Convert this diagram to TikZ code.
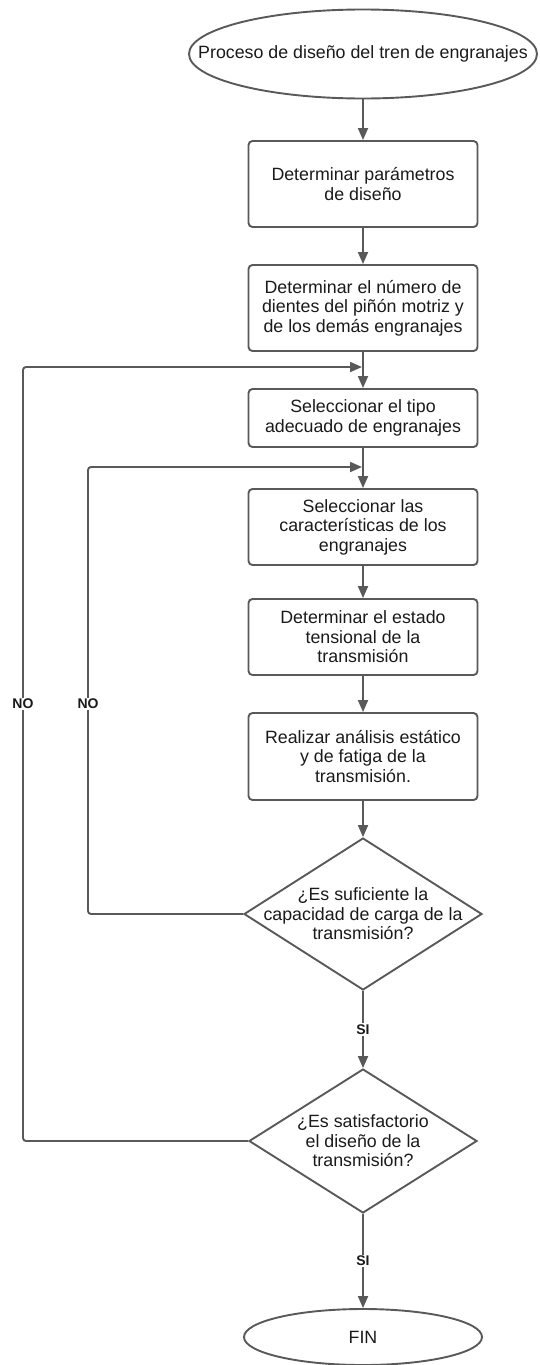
\documentclass[tikz,border=0pt]{standalone}
\usepackage{fontspec}
\setmainfont{Liberation Sans}
\usetikzlibrary{shapes.geometric,arrows.meta}
\definecolor{linec}{HTML}{595959}
\definecolor{txtc}{HTML}{1A1A1A}
\begin{document}
\begin{tikzpicture}[x=1pt,y=-1pt,
  every node/.style={text=txtc, font=\fontsize{17.8}{19.5}\selectfont},
  ln/.style={draw=linec, line width=1.9pt},
  arr/.style={ln, -{Triangle[width=10pt,length=12pt]}},
  box/.style={ln, rectangle, rounded corners=4pt, minimum width=229pt, align=center, inner sep=0pt},
  dia/.style={ln, diamond, inner sep=0pt},
  term/.style={ln, ellipse, inner sep=0pt},
  lbl/.style={font=\bfseries\fontsize{14}{15}\selectfont, fill=white, inner sep=1.5pt, text=txtc},
  txt/.style={align=center, inner sep=0pt}
]
\useasboundingbox (0,0) rectangle (540,1365);

% terminals
\node[term, minimum width=348pt, minimum height=89pt] (s) at (363,54) {};
\node[txt] (st) at (s) {Proceso de diseño del tren de engranajes};

% process boxes
\node[box, minimum height=86pt] (b1) at (363,184) {Determinar parámetros\\de diseño};
\node[box, minimum height=86pt] (b2) at (363,308) {Determinar el número de\\dientes del piñón motriz y\\de los demás engranajes};
\node[box, minimum height=58pt] (b3) at (363,418) {Seleccionar el tipo\\adecuado de engranajes};
\node[box, minimum height=76pt] (b4) at (363,527) {Seleccionar las\\características de los\\engranajes};
\node[box, minimum height=76pt] (b5) at (363,637) {Determinar el estado\\tensional de la\\transmisión};
\node[box, minimum height=87pt] (b6) at (363,756.5) {Realizar análisis estático\\y de fatiga de la\\transmisión.};

% decisions
\node[dia, minimum width=238pt, minimum height=152pt] (d1) at (363,914) {};
\node[txt] (d1t) at (d1) {¿Es suficiente la\\capacidad de carga de la\\transmisión?};
\node[dia, minimum width=228pt, minimum height=144pt] (d2) at (363,1141) {};
\node[txt] (d2t) at (d2) {¿Es satisfactorio\\el diseño de la\\transmisión?};

% end
\node[term, minimum width=238pt, minimum height=56pt] (f) at (363,1337) {};
\node[txt] (ft) at (f) {FIN};

% main flow
\draw[arr] (s.south) -- (b1.north);
\draw[arr] (b1.south) -- (b2.north);
\draw[arr] (b2.south) -- (b3.north);
\draw[arr] (b3.south) -- (b4.north);
\draw[arr] (b4.south) -- (b5.north);
\draw[arr] (b5.south) -- (b6.north);
\draw[arr] (b6.south) -- (d1.north);
\draw[arr] (d1.south) -- node[lbl] (si1) {SI} (d2.north);
\draw[arr] (d2.south) -- node[lbl] (si2) {SI} (f.north);

% loops
\coordinate (o1) at (23,1141);
\coordinate (o2) at (23,367);
\coordinate (j1) at (363,367);
\coordinate (i1) at (88,914);
\coordinate (i2) at (88,467);
\coordinate (j2) at (363,467);
\draw[arr, rounded corners=3pt, shorten >=1pt] (d2.west) -- (o1) -- (o2) -- (j1);
\draw[arr, rounded corners=3pt, shorten >=1pt] (d1.west) -- (i1) -- (i2) -- (j2);
\node[lbl] (no1) at (23,704) {NO};
\node[lbl] (no2) at (88,704) {NO};
\end{tikzpicture}
\end{document}
